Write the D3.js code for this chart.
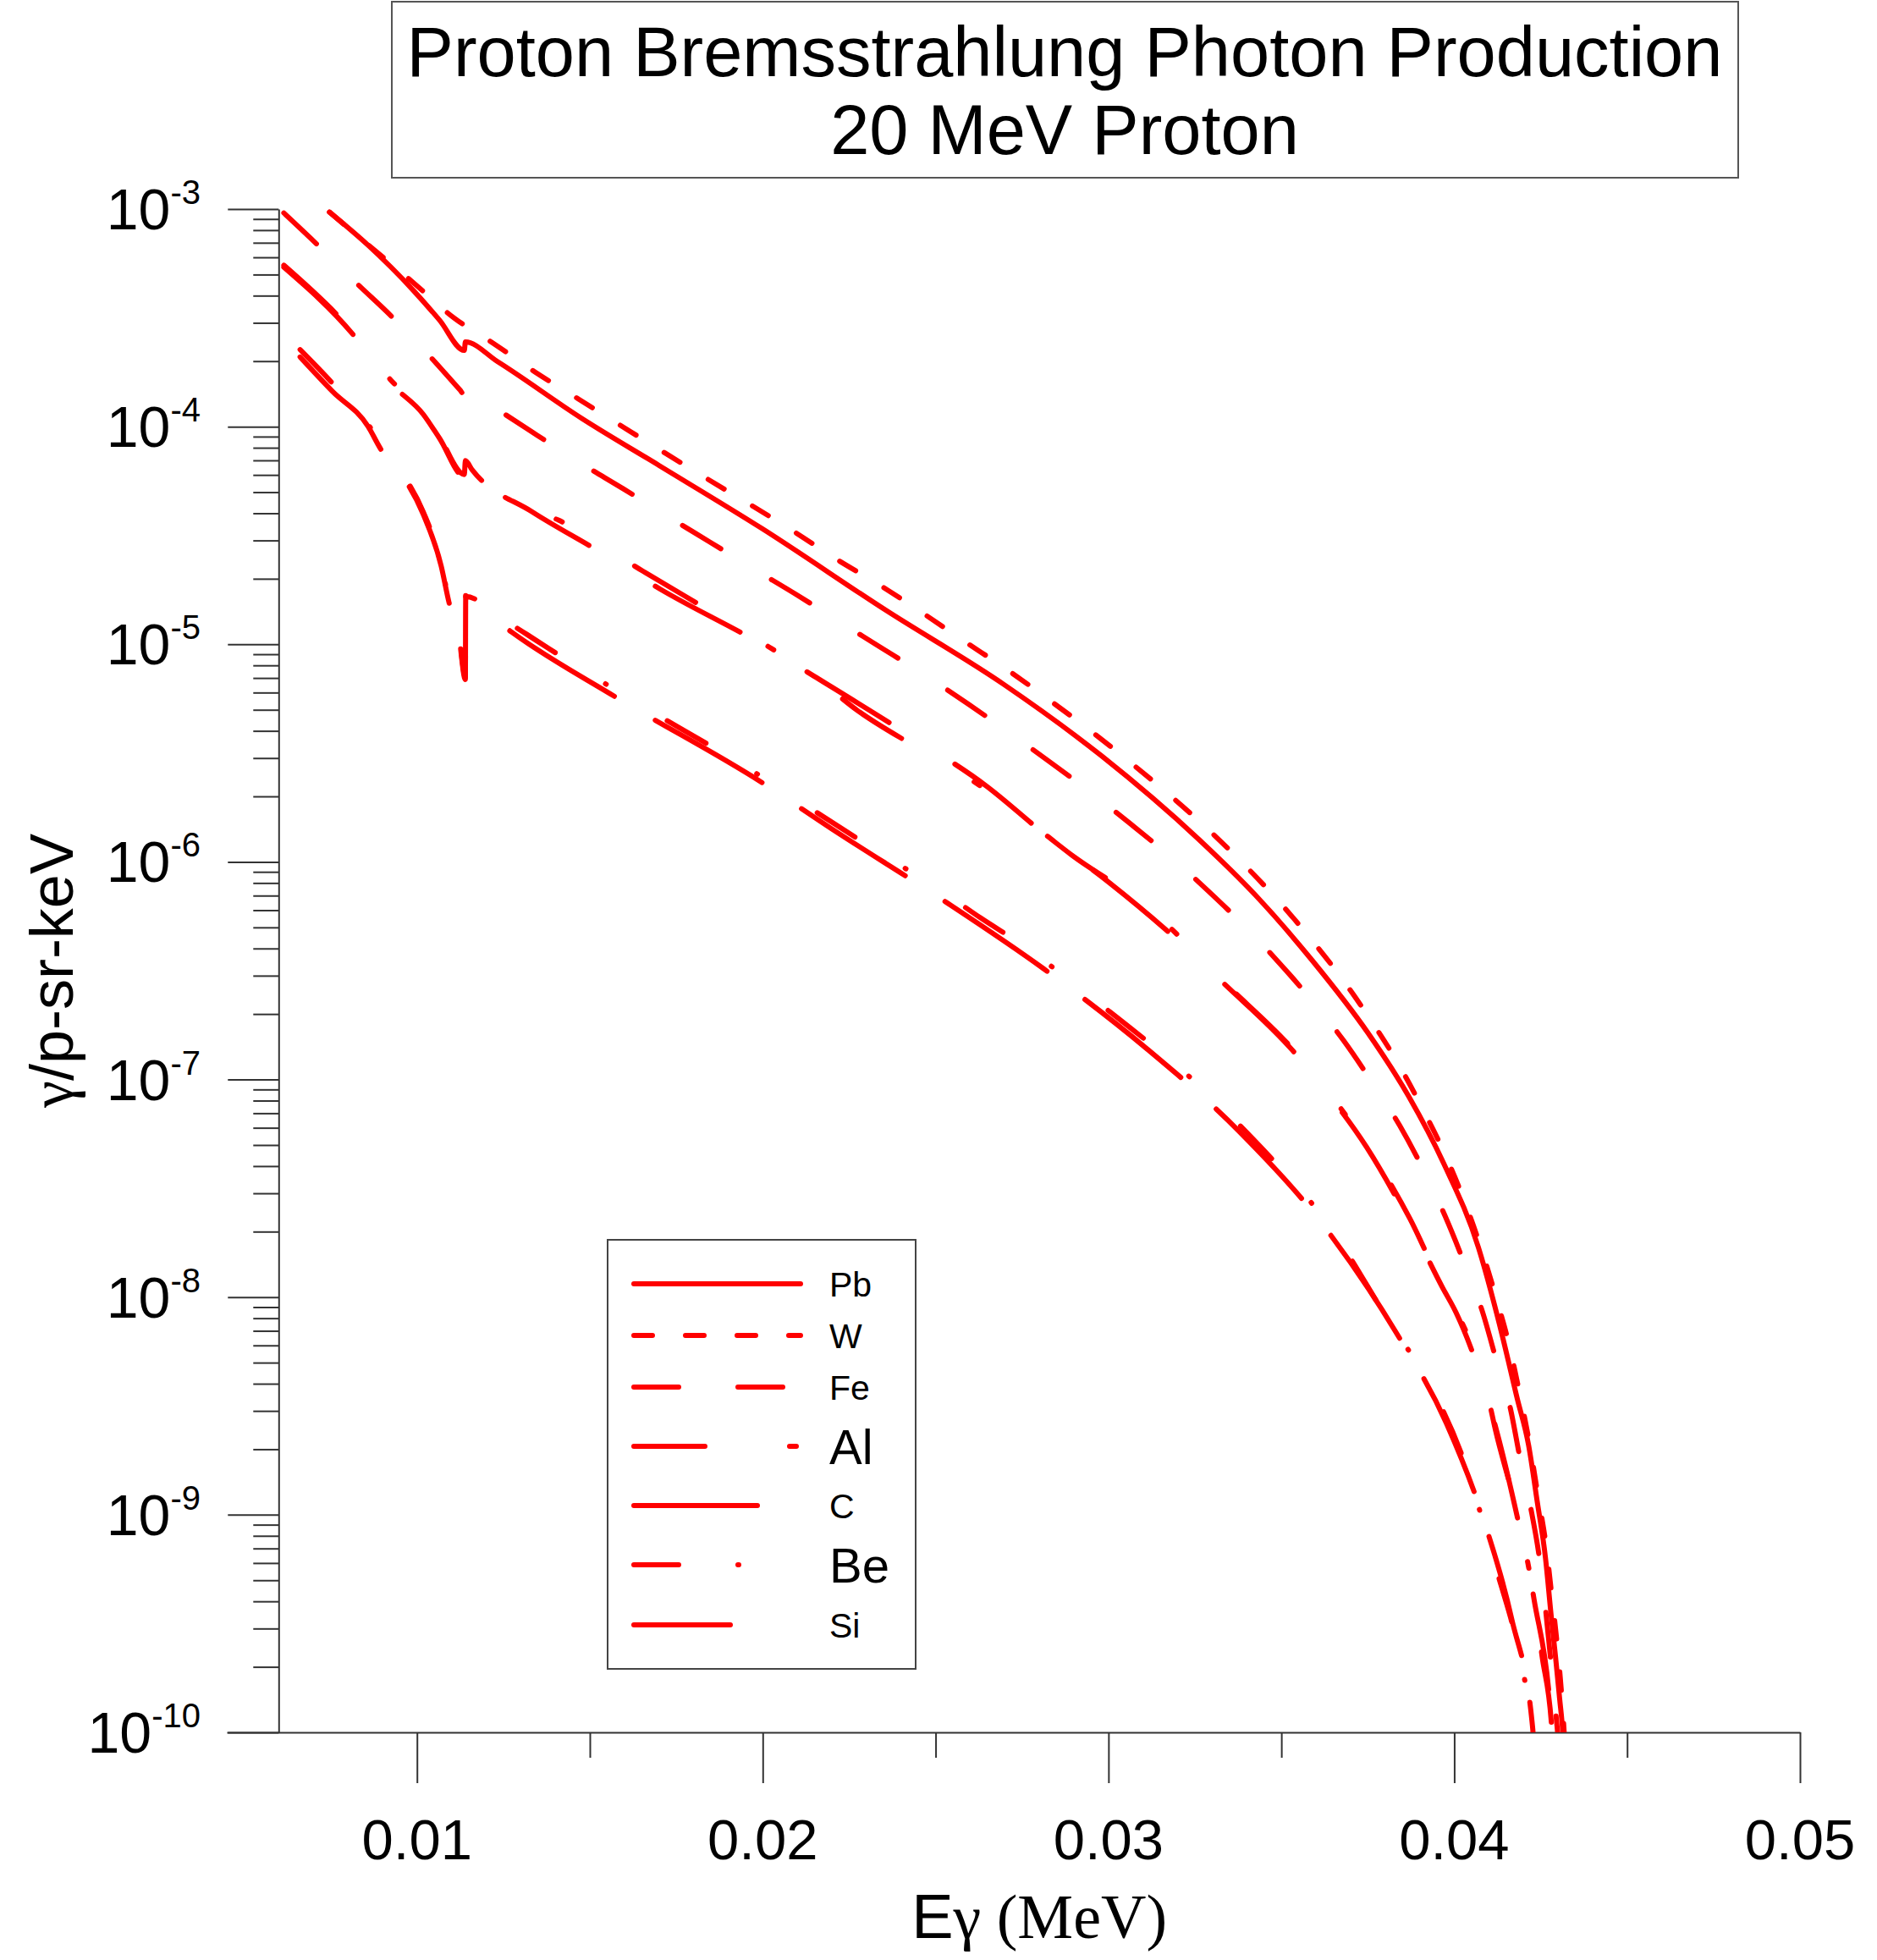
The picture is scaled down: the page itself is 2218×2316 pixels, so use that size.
<!DOCTYPE html>
<html>
<head>
<meta charset="utf-8">
<script src="https://cdn.jsdelivr.net/npm/d3@7"></script>
<style>
  body { margin: 0; background: #fff; }
  svg { display: block; }
</style>
</head>
<body>
<svg id="viz"></svg>
<script>
// ----------------------------------------------------------------------------------------------------------------
// DATA  (photon energy in MeV, yield in gamma/p-sr-keV)

var materials = ["Pb", "W", "Fe", "Al", "C", "Be", "Si"];

var pbData = [
  [0.00747, 9.68e-4], [0.00859, 6.81e-4], [0.0099, 4.22e-4], [0.01065, 3.09e-4], [0.01137, 2.24e-4],
  [0.0114, 2.45e-4], [0.01233, 1.99e-4], [0.01477, 1.09e-4], [0.01701, 6.62e-5], [0.01997, 3.41e-5],
  [0.02357, 1.43e-5], [0.02696, 6.56e-6], [0.0298, 3.07e-6], [0.03261, 1.27e-6],
  [0.03424, 7.06e-7], [0.03587, 3.56e-7], [0.0375, 1.64e-7], [0.03868, 8.38e-8], [0.03969, 4.13e-8],
  [0.0407, 1.69e-8], [0.04131, 7.48e-9], [0.04182, 3.43e-9], [0.04215, 2.09e-9], [0.0424, 1.15e-9],
  [0.04264, 6.31e-10], [0.0428, 3.48e-10], [0.04293, 2.22e-10], [0.04305, 1.42e-10], [0.04313, 1.05e-10],
  [0.04316, 8.9e-11]
];

var wData = [
  [0.00747, 9.68e-4], [0.00859, 6.84e-4], [0.00995, 4.51e-4], [0.01107, 3.16e-4], [0.0122, 2.42e-4],
  [0.01342, 1.78e-4], [0.01467, 1.34e-4], [0.0159, 1.01e-4], [0.01716, 7.59e-5], [0.0184, 5.75e-5],
  [0.01965, 4.37e-5], [0.02091, 3.29e-5], [0.02215, 2.45e-5], [0.02341, 1.86e-5], [0.02463, 1.39e-5],
  [0.02584, 1.03e-5], [0.02708, 7.62e-6], [0.02827, 5.57e-6], [0.02944, 4.05e-6], [0.03059, 2.90e-6],
  [0.03172, 2.06e-6], [0.03282, 1.44e-6], [0.03387, 9.91e-7], [0.03489, 6.68e-7], [0.03583, 4.47e-7],
  [0.03675, 2.91e-7], [0.03758, 1.88e-7], [0.03837, 1.19e-7], [0.03906, 7.46e-8], [0.03971, 4.61e-8],
  [0.04028, 2.80e-8], [0.04077, 1.69e-8], [0.0412, 1.01e-8], [0.04159, 6.01e-9], [0.0419, 3.56e-9],
  [0.04218, 2.11e-9], [0.04242, 1.23e-9], [0.04265, 7.33e-10], [0.04282, 4.27e-10], [0.04298, 2.51e-10],
  [0.04311, 1.46e-10], [0.0432, 8.9e-11]
];

var feData = [
  [0.00615, 9.59e-4], [0.00714, 6.81e-4], [0.00826, 4.55e-4], [0.00924, 3.24e-4], [0.01033, 2.14e-4],
  [0.01125, 1.47e-4], [0.01137, 1.40e-4], [0.0114, 1.50e-4], [0.01233, 1.20e-4], [0.01348, 9.12e-5],
  [0.0148, 6.70e-5], [0.01597, 5.18e-5], [0.0173, 3.83e-5], [0.01847, 2.95e-5], [0.0198, 2.19e-5],
  [0.02095, 1.70e-5], [0.02232, 1.24e-5], [0.02347, 9.55e-6], [0.0248, 7.03e-6], [0.02593, 5.33e-6],
  [0.02723, 3.82e-6], [0.02833, 2.86e-6], [0.02958, 2.03e-6], [0.03065, 1.49e-6], [0.03187, 1.03e-6],
  [0.03288, 7.36e-7], [0.03401, 4.93e-7], [0.03492, 3.46e-7], [0.03597, 2.22e-7], [0.0368, 1.51e-7],
  [0.03769, 9.35e-8], [0.03842, 6.15e-8], [0.03916, 3.70e-8], [0.03974, 2.35e-8], [0.04033, 1.38e-8],
  [0.04081, 8.63e-9], [0.04124, 4.98e-9], [0.04162, 3.10e-9], [0.04192, 1.76e-9], [0.04221, 1.08e-9],
  [0.04248, 6.05e-10], [0.04264, 3.70e-10], [0.04284, 1.78e-10], [0.04302, 8.9e-11]
];

var alData = [
  [0.00615, 5.52e-4], [0.00817, 2.69e-4], [0.00924, 1.64e-4], [0.01018, 1.17e-4], [0.01065, 9.02e-5],
  [0.01137, 6.03e-5], [0.0114, 6.98e-5], [0.01159, 6.35e-5], [0.01332, 4.20e-5], [0.01409, 3.72e-5],
  [0.01653, 2.17e-5], [0.01997, 1.02e-5], [0.0215, 7.11e-6], [0.02275, 4.95e-6], [0.02453, 3.30e-6],
  [0.02647, 2.14e-6], [0.02816, 1.34e-6], [0.02892, 1.08e-6], [0.03116, 6.14e-7], [0.03335, 2.79e-7],
  [0.03538, 1.35e-7], [0.03632, 8.91e-8], [0.03746, 5.01e-8], [0.03872, 2.29e-8], [0.03967, 1.11e-8],
  [0.04005, 8.69e-9], [0.04101, 3.31e-9], [0.04119, 2.46e-9], [0.04175, 1.12e-9], [0.04231, 4.10e-10],
  [0.04254, 2.24e-10], [0.04282, 1.05e-10], [0.04285, 8.9e-11]
];

var siData = [
  [0.00615, 5.40e-4], [0.00817, 2.63e-4], [0.00924, 1.58e-4], [0.01018, 1.14e-4], [0.01065, 8.85e-5],
  [0.01137, 5.89e-5], [0.0114, 6.92e-5], [0.01159, 6.31e-5], [0.01332, 4.07e-5], [0.01527, 2.67e-5],
  [0.01704, 1.79e-5], [0.01997, 1.00e-5], [0.0215, 7.11e-6], [0.0241, 3.94e-6], [0.02647, 2.23e-6],
  [0.02816, 1.34e-6], [0.03002, 8.04e-7], [0.03163, 4.93e-7], [0.03335, 2.75e-7], [0.03538, 1.33e-7],
  [0.03632, 8.71e-8], [0.03746, 4.90e-8], [0.03872, 2.19e-8], [0.03967, 1.10e-8], [0.04005, 8.51e-9],
  [0.04101, 3.24e-9], [0.04175, 1.10e-9], [0.04231, 4.07e-10], [0.04282, 1.05e-10], [0.04285, 8.9e-11]
];

var cData = [
  [0.00662, 2.09e-4], [0.00756, 1.45e-4], [0.00859, 1.00e-4], [0.00896, 7.85e-5], [0.00952, 6.12e-5],
  [0.01018, 3.96e-5], [0.0107, 2.29e-5], [0.01093, 1.55e-5], [0.01121, 1.10e-5], [0.0114, 6.89e-6],
  [0.01141, 1.66e-5], [0.01273, 1.14e-5], [0.01573, 5.74e-6], [0.01997, 2.32e-6], [0.02199, 1.42e-6],
  [0.02519, 6.71e-7], [0.02811, 3.24e-7], [0.03112, 1.38e-7], [0.03376, 5.82e-8], [0.03627, 2.08e-8],
  [0.03827, 7.08e-9], [0.03977, 2.64e-9], [0.04085, 9.48e-10], [0.04166, 3.33e-10], [0.04227, 1.04e-10],
  [0.0423, 8.9e-11]
];

var beData = [
  [0.00662, 2.26e-4], [0.00756, 1.58e-4], [0.00859, 1.02e-4], [0.00952, 6.31e-5], [0.01018, 4.07e-5],
  [0.0107, 2.34e-5], [0.01093, 1.58e-5], [0.01121, 1.12e-5], [0.0114, 7.08e-6], [0.01141, 1.78e-5],
  [0.01203, 1.47e-5], [0.01318, 1.11e-5], [0.01594, 5.90e-6], [0.01997, 2.46e-6], [0.02106, 1.90e-6],
  [0.02381, 1.00e-6], [0.02497, 7.73e-7], [0.0263, 5.53e-7], [0.02767, 3.99e-7], [0.02876, 2.95e-7],
  [0.03005, 2.04e-7], [0.03237, 1.02e-7], [0.03469, 4.38e-8], [0.0356, 3.05e-8], [0.03627, 2.25e-8],
  [0.03827, 7.08e-9], [0.03908, 4.53e-9], [0.04032, 1.70e-9], [0.04116, 6.05e-10], [0.042, 1.86e-10],
  [0.04227, 1.04e-10], [0.0423, 8.9e-11]
];

var seriesData = {"Pb": pbData, "W": wData, "Fe": feData, "Al": alData, "C": cData, "Be": beData, "Si": siData};

var xTicks = [0.01, 0.02, 0.03, 0.04, 0.05];
var xTickLabels = ["0.01", "0.02", "0.03", "0.04", "0.05"];
var xMinorTicks = [0.015, 0.025, 0.035, 0.045];
var yTicks = [1e-3, 1e-4, 1e-5, 1e-6, 1e-7, 1e-8, 1e-9, 1e-10];
var yTickExponents = ["-3", "-4", "-5", "-6", "-7", "-8", "-9", "-10"];



// ----------------------------------------------------------------------------------------------------------------
// STYLES

var dashes = {
  "Pb": null,
  "W": "22,39",
  "Fe": "53,70",
  "Al": "84,100,8,100",
  "C": "146,56",
  "Be": "53,70,1,84",
  "Si": "114,92"
};
var legendRowY = [1517, 1578, 1639, 1709, 1779, 1849, 1920];
var legendFont = [41, 41, 41, 58, 41, 58, 41];
var sans = "'Liberation Sans', Arial, sans-serif";
var serif = "'Liberation Serif', 'Times New Roman', serif";



// ----------------------------------------------------------------------------------------------------------------
// INITIAL SETUP

var w = 2218;
var h = 2316;
var viz = d3.select("#viz").attr("width", w).attr("height", h);

var x = d3.scaleLinear().domain([0.0045, 0.05]).range([268, 2127]);
var y = d3.scaleLog().domain([1e-10, 1e-3]).range([2047, 247]);
var x0 = x(0.006);

viz.append("defs").append("clipPath").attr("id", "plot-clip")
  .append("rect")
  .attr("x", x0)
  .attr("y", y(1e-3))
  .attr("width", x(0.05) - x0)
  .attr("height", y(1e-10) - y(1e-3));



// ----------------------------------------------------------------------------------------------------------------
// AXES

function styleAxis(g) {
  g.selectAll("line, path").attr("stroke", "#333").attr("stroke-width", 2);
  g.selectAll("text").remove();
}

// x axis, major and minor ticks
viz.append("g")
  .attr("transform", "translate(0," + y(1e-10) + ")")
  .call(d3.axisBottom(x).tickValues(xTicks).tickSize(60).tickSizeOuter(0).tickFormat(""))
  .call(styleAxis);

viz.append("g")
  .attr("transform", "translate(0," + y(1e-10) + ")")
  .call(d3.axisBottom(x).tickValues(xMinorTicks).tickSize(30).tickSizeOuter(0).tickFormat(""))
  .call(styleAxis)
  .select(".domain").remove();

// y axis, decades and 2..9 minor ticks
viz.append("g")
  .attr("transform", "translate(" + x0 + ",0)")
  .call(d3.axisLeft(y).tickValues(yTicks).tickSize(60).tickSizeOuter(0).tickFormat(""))
  .call(styleAxis);

var yMinor = y.ticks().filter(function(v) {
  return Math.abs(Math.log10(v) - Math.round(Math.log10(v))) > 1e-6;
});
viz.append("g")
  .attr("transform", "translate(" + x0 + ",0)")
  .call(d3.axisLeft(y).tickValues(yMinor).tickSize(30).tickSizeOuter(0).tickFormat(""))
  .call(styleAxis)
  .select(".domain").remove();

// tick labels
viz.selectAll("text.xlabel")
  .data(xTicks)
  .enter()
  .append("text")
  .attr("class", "xlabel")
  .attr("x", function(d) { return x(d); })
  .attr("y", 2197)
  .attr("text-anchor", "middle")
  .style("font-family", sans)
  .style("font-size", "67px")
  .text(function(d, i) { return xTickLabels[i]; });

var ylab = viz.selectAll("text.ylabel")
  .data(yTicks)
  .enter()
  .append("text")
  .attr("class", "ylabel")
  .attr("x", 237)
  .attr("y", function(d) { return y(d) + 24; })
  .attr("text-anchor", "end")
  .style("font-family", sans);
ylab.append("tspan").style("font-size", "68px").text("10");
ylab.append("tspan").style("font-size", "40px").attr("dy", -30)
  .text(function(d, i) { return yTickExponents[i]; });

// axis titles
var xt = viz.append("text")
  .attr("x", (x0 + x(0.05)) / 2)
  .attr("y", 2290)
  .attr("text-anchor", "middle")
  .style("font-size", "74px");
xt.append("tspan").style("font-family", sans).text("E");
xt.append("tspan").style("font-family", serif).text("\u03b3 (MeV)");

var yt = viz.append("text")
  .attr("transform", "translate(86," + (y(1e-3) + y(1e-10)) / 2 + ") rotate(-90)")
  .attr("text-anchor", "middle")
  .style("font-size", "72px");
yt.append("tspan").style("font-family", serif).text("\u03b3");
yt.append("tspan").style("font-family", sans).text("/p-sr-keV");



// ----------------------------------------------------------------------------------------------------------------
// CURVES

var line = d3.line()
  .curve(d3.curveMonotoneX)
  .x(function(d) { return x(d[0]); })
  .y(function(d) { return y(d[1]); });

var plot = viz.append("g").attr("clip-path", "url(#plot-clip)");

materials.forEach(function(m) {
  plot.append("path")
    .datum(seriesData[m])
    .attr("d", line)
    .attr("fill", "none")
    .attr("stroke", "#ff0000")
    .attr("stroke-width", 6)
    .attr("stroke-linecap", "round")
    .attr("stroke-linejoin", "round")
    .attr("stroke-dasharray", dashes[m]);
});



// ----------------------------------------------------------------------------------------------------------------
// TITLE + LEGEND

viz.append("rect")
  .attr("x", 463).attr("y", 2).attr("width", 1591).attr("height", 208)
  .attr("fill", "none").attr("stroke", "#555").attr("stroke-width", 2);

viz.append("text")
  .attr("x", 1258).attr("y", 90).attr("text-anchor", "middle")
  .style("font-family", sans).style("font-size", "83px")
  .text("Proton Bremsstrahlung Photon Production");

viz.append("text")
  .attr("x", 1258).attr("y", 182).attr("text-anchor", "middle")
  .style("font-family", sans).style("font-size", "83px")
  .text("20 MeV Proton");

viz.append("rect")
  .attr("x", 718).attr("y", 1465).attr("width", 364).attr("height", 507)
  .attr("fill", "#fff").attr("stroke", "#444").attr("stroke-width", 2);

var rows = viz.selectAll("g.legend-row")
  .data(materials)
  .enter()
  .append("g")
  .attr("class", "legend-row");

rows.append("line")
  .attr("x1", 749).attr("x2", 946)
  .attr("y1", function(d, i) { return legendRowY[i]; })
  .attr("y2", function(d, i) { return legendRowY[i]; })
  .attr("stroke", "#ff0000")
  .attr("stroke-width", 6)
  .attr("stroke-linecap", "round")
  .attr("stroke-dasharray", function(d) { return dashes[d]; });

rows.append("text")
  .attr("x", 980)
  .attr("y", function(d, i) { return legendRowY[i] + legendFont[i] * 0.36; })
  .style("font-family", sans)
  .style("font-size", function(d, i) { return legendFont[i] + "px"; })
  .text(function(d) { return d; });
</script>
</body>
</html>
